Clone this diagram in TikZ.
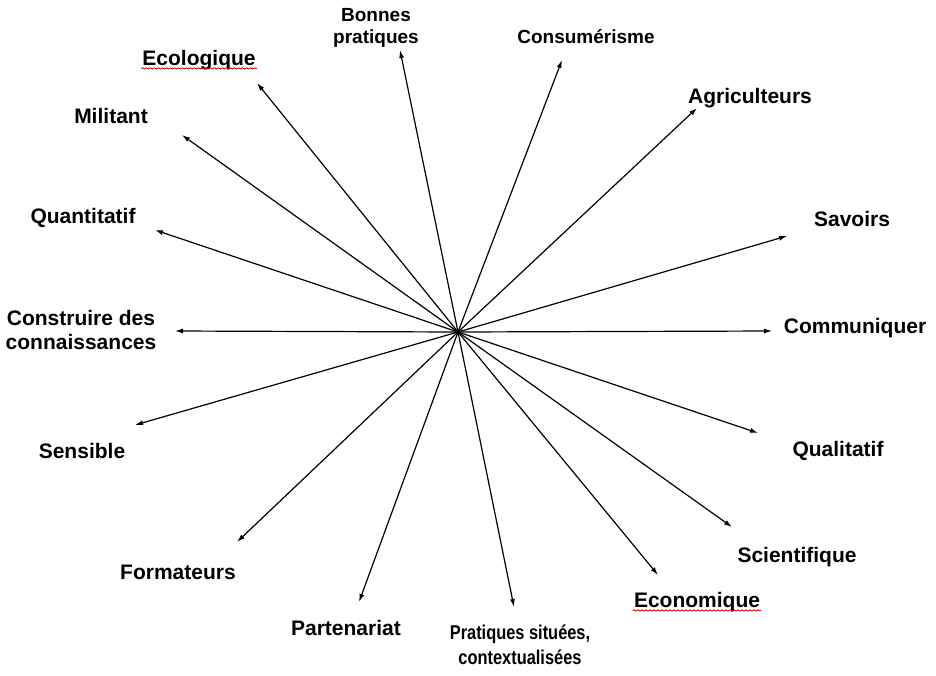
\documentclass[tikz,border=0pt]{standalone}
\usepackage{fontspec}
\setmainfont{Liberation Sans}
\usetikzlibrary{arrows.meta, decorations.pathmorphing}

\begin{document}
\begin{tikzpicture}[x=1pt, y=-1pt, >={Latex[length=8pt,width=5pt]}]
	\tikzstyle{mot} = [draw=none, align=center, inner sep=1pt, font=\bfseries\fontsize{21}{24}\selectfont]
	\tikzstyle{petit} = [mot, font=\bfseries\fontsize{19}{22}\selectfont]
	\tikzstyle{serre} = [mot, font=\bfseries\fontsize{20}{25}\selectfont\addfontfeature{FakeStretch=0.82}]
	\tikzstyle{fleche} = [->, line width=1.2pt]
	\tikzstyle{souligne} = [red!85!black, line width=0.9pt, decorate, decoration={snake, amplitude=0.6pt, segment length=4pt}]

	\useasboundingbox (0,0) rectangle (936,675);

	\coordinate (c) at (458,332);

	% bouts des fleches
	\coordinate (t1)  at (400,50);
	\coordinate (t2)  at (562,60);
	\coordinate (t3)  at (697,108);
	\coordinate (t4)  at (787,236);
	\coordinate (t5)  at (772,331);
	\coordinate (t6)  at (758,433);
	\coordinate (t7)  at (732,527);
	\coordinate (t8)  at (658,575);
	\coordinate (t9)  at (514,607);
	\coordinate (t10) at (359,602);
	\coordinate (t11) at (237,542);
	\coordinate (t12) at (135,425);
	\coordinate (t13) at (175,331);
	\coordinate (t14) at (155,230);
	\coordinate (t15) at (182,135);
	\coordinate (t16) at (257,83);

	% etiquettes
	\node[petit] at (376,28)  (bonnes) {Bonnes\\pratiques};
	\node[petit] at (586,37)  (conso)  {Consumérisme};
	\node[mot]   at (750,98)  (agri)   {Agriculteurs};
	\node[mot]   at (852,219) (savoir) {Savoirs};
	\node[mot]   at (855,328) (comm)   {Communiquer};
	\node[mot]   at (838,451) (quali)  {Qualitatif};
	\node[mot]   at (797,557) (scient) {Scientifique};
	\node[mot]   at (697,602) (econo)  {Economique};
	\node[serre] at (520,645) (prat)   {Pratiques situées,\\contextualisées};
	\node[mot]   at (346,628) (parten) {Partenariat};
	\node[mot]   at (178,572) (forma)  {Formateurs};
	\node[mot]   at (82,451)  (sensi)  {Sensible};
	\node[mot]   at (81,330)  (constr) {Construire des\\connaissances};
	\node[mot]   at (83,218)  (quanti) {Quantitatif};
	\node[mot]   at (111,116) (milit)  {Militant};
	\node[mot]   at (199,60)  (ecolo)  {Ecologique};

	% soulignements rouges
	\draw[souligne] ([yshift=-3pt]ecolo.base west) -- ([yshift=-3pt]ecolo.base east);
	\draw[souligne] ([yshift=-3pt]econo.base west) -- ([yshift=-3pt]econo.base east);

	\foreach \t in {t1,t2,t3,t4,t5,t6,t7,t8,t9,t10,t11,t12,t13,t14,t15,t16}
		\draw[fleche] (c) -- (\t);
\end{tikzpicture}
\end{document}
